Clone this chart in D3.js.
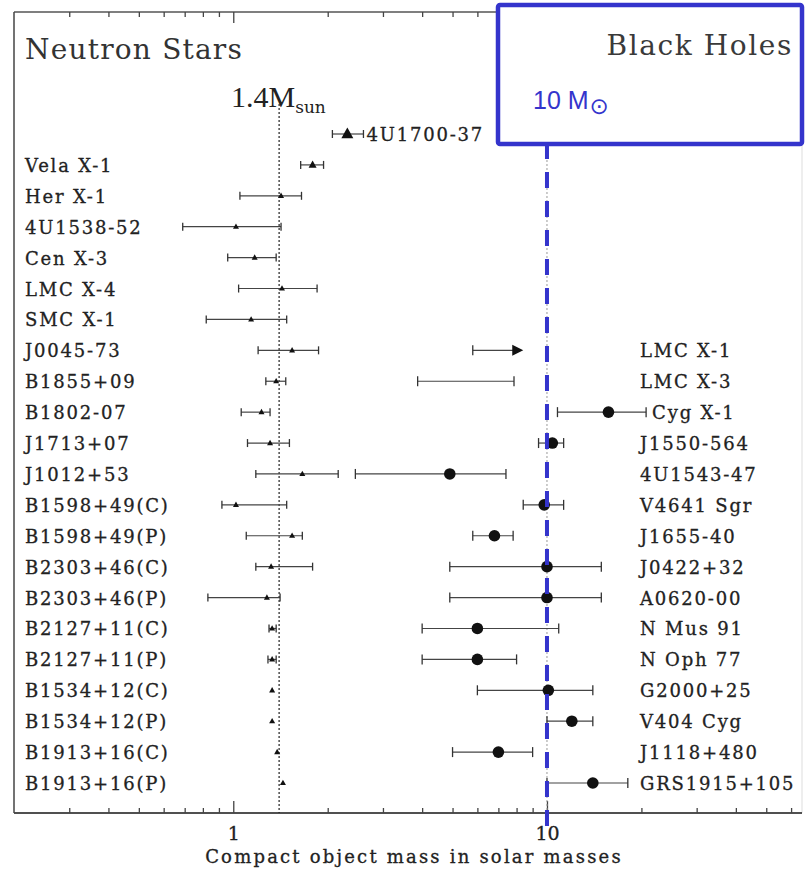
<!DOCTYPE html>
<html>
<head>
<meta charset="utf-8">
<script src="https://cdn.jsdelivr.net/npm/d3@7"></script>
<style>
  html, body { margin: 0; padding: 0; background: #fff; }
  svg { display: block; }
</style>
</head>
<body>
<svg id="chart" width="805" height="869"></svg>
<script>
// ---------------- DATA ----------------
const nsNames = ["4U1700-37","Vela X-1","Her X-1","4U1538-52","Cen X-3","LMC X-4","SMC X-1",
  "J0045-73","B1855+09","B1802-07","J1713+07","J1012+53","B1598+49(C)","B1598+49(P)",
  "B2303+46(C)","B2303+46(P)","B2127+11(C)","B2127+11(P)","B1534+12(C)","B1534+12(P)",
  "B1913+16(C)","B1913+16(P)"];
const nsMass = [2.31,1.79,1.42,1.02,1.17,1.43,1.14,1.54,1.37,1.23,1.31,1.66,1.02,1.54,1.32,1.28,1.33,1.33,1.33,1.33,1.38,1.44];
const nsLow  = [2.07,1.64,1.05,0.69,0.96,1.04,0.82,1.20,1.27,1.06,1.11,1.18,0.92,1.10,1.18,0.83,1.30,1.29,1.33,1.33,1.38,1.44];
const nsHigh = [2.60,1.94,1.65,1.42,1.37,1.85,1.48,1.87,1.47,1.31,1.51,2.16,1.48,1.66,1.79,1.41,1.37,1.37,1.33,1.33,1.38,1.44];

const bhNames = ["LMC X-1","LMC X-3","Cyg X-1","J1550-564","4U1543-47","V4641 Sgr","J1655-40",
  "J0422+32","A0620-00","N Mus 91","N Oph 77","G2000+25","V404 Cyg","J1118+480","GRS1915+105"];
const bhMass = [null,null,15.7,10.4,4.9,9.8,6.8,10.0,10.0,6.0,6.0,10.1,12.0,7.0,14.0];
const bhLow  = [5.8,3.87,10.8,9.4,2.45,8.4,5.8,4.9,4.9,4.0,4.0,6.0,10.0,5.0,10.0];
const bhHigh = [8.4,7.85,20.7,11.3,7.4,11.3,7.8,14.9,14.9,10.9,8.0,14.0,14.0,9.0,18.1];
const bhLowerLimit = ["LMC X-1"];   // drawn as an arrow (mass above the bar)
const bhFirstRow = 7;               // black holes share rows 7..21 with the neutron stars

const majorTicks = [1, 10];
const minorTicks = [0.3,0.4,0.5,0.6,0.7,0.8,0.9,2,3,4,5,6,7,8,9,20,30,40,50,60];
const nsReference = 1.4;
const bhReference = 10;

// ---------------- LAYOUT ----------------
const svg = d3.select("#chart");
const frame = {left: 14, right: 802, top: 12, bottom: 813};
const x = d3.scaleLog().domain([0.2, 65]).range([frame.left, frame.right]);
const y = d3.scalePoint().domain(d3.range(nsNames.length)).range([134, 783]);

const ink = "#222";
const blue = "#3434cc";
const serif = "'DejaVu Serif', serif";

function label(sel) {
  return sel.attr("font-family", serif).attr("font-size", 18).attr("letter-spacing", 1.8)
    .attr("fill", ink).attr("stroke", ink).attr("stroke-width", 0.3);
}

// frame
svg.append("line").attr("x1", frame.left).attr("x2", frame.right).attr("y1", frame.top).attr("y2", frame.top)
  .attr("stroke", "#555").attr("stroke-width", 1.5);
svg.append("line").attr("x1", frame.left).attr("x2", frame.left).attr("y1", frame.top).attr("y2", frame.bottom)
  .attr("stroke", "#444").attr("stroke-width", 1.5);
svg.append("line").attr("x1", frame.right).attr("x2", frame.right).attr("y1", frame.top).attr("y2", frame.bottom)
  .attr("stroke", "#ddd").attr("stroke-width", 1);

// bottom axis (ticks pointing inward)
const gb = svg.append("g").attr("transform", `translate(0,${frame.bottom})`);
gb.call(d3.axisBottom(x).tickValues(minorTicks).tickSize(-5).tickFormat(""));
const gbm = svg.append("g").attr("transform", `translate(0,${frame.bottom})`);
gbm.call(d3.axisBottom(x).tickValues(majorTicks).tickSize(-12).tickPadding(14).tickFormat(d3.format("d")));
[gb, gbm].forEach(g => {
  g.select(".domain").attr("stroke", "#444").attr("stroke-width", 1.5).attr("d", `M${frame.left},0H${frame.right}`);
  g.selectAll(".tick line").attr("stroke", "#444").attr("stroke-width", 1.3);
  g.selectAll(".tick text").attr("font-family", serif).attr("font-size", 19).attr("fill", ink)
    .attr("stroke", ink).attr("stroke-width", 0.3);
});

// top axis (ticks pointing inward)
const gt = svg.append("g").attr("transform", `translate(0,${frame.top})`);
gt.call(d3.axisTop(x).tickValues(minorTicks).tickSize(-5).tickFormat(""));
const gtm = svg.append("g").attr("transform", `translate(0,${frame.top})`);
gtm.call(d3.axisTop(x).tickValues(majorTicks).tickSize(-11).tickFormat(""));
[gt, gtm].forEach(g => {
  g.select(".domain").remove();
  g.selectAll(".tick line").attr("stroke", "#444").attr("stroke-width", 1.3);
});

// axis title
svg.append("text").attr("x", 414).attr("y", 863).attr("text-anchor", "middle")
  .attr("font-family", serif).attr("font-size", 18).attr("letter-spacing", 2.2).attr("fill", ink)
  .attr("stroke", ink).attr("stroke-width", 0.3)
  .text("Compact object mass in solar masses");

// reference lines
svg.append("line").attr("x1", x(nsReference)).attr("x2", x(nsReference)).attr("y1", 104).attr("y2", frame.bottom)
  .attr("stroke", "#222").attr("stroke-width", 1.2).attr("stroke-dasharray", "2,2");
svg.append("line").attr("x1", x(bhReference)).attr("x2", x(bhReference)).attr("y1", 128).attr("y2", frame.bottom)
  .attr("stroke", "#999").attr("stroke-width", 1).attr("stroke-dasharray", "2,2");

// 1.4 Msun label
const lab = svg.append("text").attr("x", 231).attr("y", 107).attr("fill", ink)
  .attr("font-family", "'Liberation Serif', serif").attr("font-size", 30);
lab.append("tspan").text("1.4M");
lab.append("tspan").attr("font-family", serif).attr("font-size", 17).attr("dy", 6).text("sun");

// titles
svg.append("text").attr("x", 25).attr("y", 59).attr("font-family", serif).attr("font-size", 28)
  .attr("letter-spacing", 1.2).attr("fill", "#333").text("Neutron Stars");

// ---------------- NEUTRON STARS ----------------
const nsG = svg.append("g");
nsNames.forEach((name, i) => {
  const cy = y(i);
  const g = nsG.append("g");
  if (nsHigh[i] > nsLow[i]) {
    g.append("line").attr("x1", x(nsLow[i])).attr("x2", x(nsHigh[i])).attr("y1", cy).attr("y2", cy)
      .attr("stroke", "#444").attr("stroke-width", 1.2);
    [nsLow[i], nsHigh[i]].forEach(v => {
      g.append("line").attr("x1", x(v)).attr("x2", x(v)).attr("y1", cy - 4).attr("y2", cy + 4)
        .attr("stroke", "#333").attr("stroke-width", 1.3);
    });
  }
  const s = i === 0 ? 12 : (i === 1 ? 8 : 6);
  const mx = x(nsMass[i]);
  g.append("path")
    .attr("d", `M${mx},${cy - s * 0.55}L${mx + s / 2},${cy + s * 0.35}L${mx - s / 2},${cy + s * 0.35}Z`)
    .attr("fill", "#111");
  const tx = i === 0 ? x(nsHigh[i]) + 3 : 25;
  label(g.append("text").attr("x", tx).attr("y", cy + 7)).text(name);
});

// ---------------- BLACK HOLES ----------------
const bhG = svg.append("g");
bhNames.forEach((name, j) => {
  const cy = y(bhFirstRow + j);
  const g = bhG.append("g");
  const isLimit = bhLowerLimit.includes(name);
  const x0 = x(bhLow[j]), x1 = x(bhHigh[j]);
  g.append("line").attr("x1", x0).attr("x2", isLimit ? x1 - 8 : x1).attr("y1", cy).attr("y2", cy)
    .attr("stroke", "#444").attr("stroke-width", 1.2);
  g.append("line").attr("x1", x0).attr("x2", x0).attr("y1", cy - 5).attr("y2", cy + 5)
    .attr("stroke", "#333").attr("stroke-width", 1.3);
  if (isLimit) {
    g.append("path").attr("d", `M${x1},${cy}L${x1 - 11},${cy - 5.5}L${x1 - 11},${cy + 5.5}Z`).attr("fill", "#111");
  } else {
    g.append("line").attr("x1", x1).attr("x2", x1).attr("y1", cy - 5).attr("y2", cy + 5)
      .attr("stroke", "#333").attr("stroke-width", 1.3);
  }
  if (bhMass[j] !== null) {
    g.append("circle").attr("cx", x(bhMass[j])).attr("cy", cy).attr("r", 5.8).attr("fill", "#111");
  }
  const lx = Math.max(640, x1 + 6);
  label(g.append("text").attr("x", lx).attr("y", cy + 7)).text(name);
});

// ---------------- BLUE OVERLAY ----------------
svg.append("line").attr("x1", x(bhReference)).attr("x2", x(bhReference)).attr("y1", 143).attr("y2", 826)
  .attr("stroke", blue).attr("stroke-width", 4).attr("stroke-dasharray", "16,13");
svg.append("rect").attr("x", 498).attr("y", 5).attr("width", 304).attr("height", 139).attr("rx", 2)
  .attr("fill", "#fff").attr("stroke", blue).attr("stroke-width", 4.5);
svg.append("text").attr("x", 793).attr("y", 55).attr("text-anchor", "end").attr("font-family", serif)
  .attr("font-size", 28).attr("letter-spacing", 1.6).attr("fill", "#3a3a3a").text("Black Holes");
const bl = svg.append("text").attr("x", 533).attr("y", 109).attr("fill", blue)
  .attr("font-family", "'Liberation Sans', Arial, sans-serif").attr("font-size", 25);
bl.append("tspan").text("10 M");
bl.append("tspan").attr("font-family", "'DejaVu Sans', sans-serif").attr("font-size", 23).attr("dy", 5).attr("dx", 1).text("\u2299");
</script>
</body>
</html>
